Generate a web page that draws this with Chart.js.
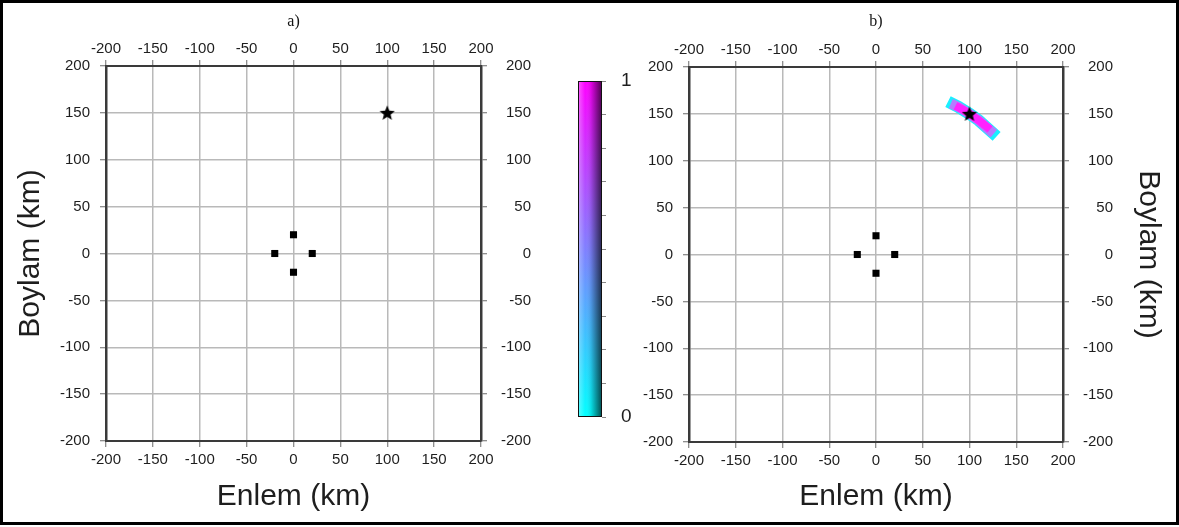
<!DOCTYPE html>
<html>
<head>
<meta charset="utf-8">
<script src="https://cdn.jsdelivr.net/npm/chart.js@4"></script>
<style>
  html, body { margin: 0; padding: 0; background: #fff; }
  body { width: 1179px; height: 527px; position: relative; overflow: hidden; }
  #frame { position: absolute; left: 0; top: 0; width: 1173px; height: 519px; border: 3px solid #000; }
  canvas { position: absolute; top: 0; }
</style>
</head>
<body>
<div id="frame"></div>
<canvas id="panelA" width="531" height="527" style="left:0px"></canvas>
<canvas id="colorbar" width="80" height="527" style="left:560px"></canvas>
<canvas id="panelB" width="549" height="527" style="left:630px"></canvas>
<script>
// axis range (km)
const axisMin = -200;
const axisMax = 200;
const axisStep = 50;

// recording stations and the source
const stationX = [0, -20, 20, 0];
const stationY = [20, 0, 0, -20];
const sourceX = [100];
const sourceY = [150];

// located area in panel b (outer band, middle, core)
const swathX = [77, 88, 100, 110, 120, 129];
const swathY = [163, 157.5, 150, 143, 134, 126];
const swathMidX = [80, 88, 100, 110, 120, 126];
const swathMidY = [161, 157.5, 150, 143, 134, 129];
const swathCoreX = [85, 93, 100, 110, 122];
const swathCoreY = [158.5, 154.5, 150, 143, 133.5];

// colour scale
const colorbarRange = [0, 1];
const colorbarLabels = [0, 1];

const sans = "'Liberation Sans', Arial, sans-serif";
const serif = "'Liberation Serif', 'Times New Roman', serif";
const textColor = '#1e1e1e';
const gridColor = '#b9b9b9';
const tickColor = '#6a6a6a';
const frameColor = '#3a3a3a';

// filled five point star used as the source marker
function makeStar(size) {
  const c = document.createElement('canvas');
  c.width = c.height = size;
  const g = c.getContext('2d');
  g.beginPath();
  for (let i = 0; i < 10; i++) {
    const r = i % 2 ? size * 0.22 : size / 2;
    const a = -Math.PI / 2 + i * Math.PI / 5;
    g.lineTo(size / 2 + r * Math.cos(a), size / 2 + r * Math.sin(a) + 0.6);
  }
  g.closePath();
  g.fillStyle = '#000';
  g.fill();
  return c;
}
const starImg = makeStar(16);

function toPoints(xs, ys) {
  return xs.map((x, i) => ({ x: x, y: ys[i] }));
}

function baseDatasets() {
  return [
    { data: toPoints(sourceX, sourceY), pointStyle: starImg, pointRadius: 7 },
    { data: toPoints(stationX, stationY), pointStyle: 'rect', pointRadius: 5,
      backgroundColor: '#000', borderColor: '#000', borderWidth: 0 }
  ];
}

function axis(position, extra) {
  const horizontal = position === 'top' || position === 'bottom';
  return Object.assign({
    type: 'linear',
    position: position,
    min: axisMin,
    max: axisMax,
    ticks: {
      stepSize: axisStep,
      color: textColor,
      font: { family: sans, size: 15 },
      padding: horizontal ? (position === 'top' ? 2 : 4) : 10,
      maxRotation: 0,
      autoSkip: false
    },
    grid: {
      drawOnChartArea: position === 'bottom' || position === 'left',
      color: gridColor,
      lineWidth: 1.5,
      tickColor: tickColor,
      tickWidth: 1,
      tickLength: 6
    },
    border: { display: true, color: frameColor, width: horizontal ? 2 : 2.5 }
  }, extra);
}

function axisTitle(text, pad) {
  return { display: true, text: text, color: textColor, font: { family: sans, size: 30 }, padding: pad };
}

function makePanel(id, cfg) {
  const scales = {
    x: axis('bottom', {
      title: axisTitle('Enlem (km)', { top: 0, bottom: 12 }),
      afterFit: s => { s.height = 527 - cfg.bottom; }
    }),
    x2: axis('top', { afterFit: s => { s.height = cfg.top - 31.2; } }),
    y: axis('left', {
      title: cfg.leftTitle ? axisTitle('Boylam (km)', { top: 13, bottom: 0 }) : { display: false },
      afterFit: s => { s.width = cfg.left; }
    }),
    y2: axis('right', { afterFit: s => { s.width = 50; } })
  };
  scales.y2.ticks.crossAlign = 'far';
  scales.y2.ticks.padding = 12;
  if (cfg.rightTitle) {
    scales.y3 = {
      type: 'linear', position: 'right', min: axisMin, max: axisMax,
      ticks: { display: false },
      grid: { display: false },
      border: { display: false },
      title: axisTitle('Boylam (km)', { top: 13, bottom: 0 }),
      afterFit: s => { s.width = cfg.rightTitle; }
    };
  }
  return new Chart(document.getElementById(id), {
    type: 'scatter',
    data: { datasets: cfg.datasets },
    options: {
      responsive: false,
      animation: false,
      layout: { padding: 0, autoPadding: false },
      plugins: {
        legend: { display: false },
        tooltip: { enabled: false },
        title: {
          display: true, text: cfg.title, fullSize: false, align: 'center',
          padding: { top: 12, bottom: 0 }, color: '#111',
          font: { family: serif, size: 16, weight: 'normal' }
        }
      },
      scales: scales
    }
  });
}

// panel a: stations and source only
makePanel('panelA', {
  title: 'a)', top: 66, bottom: 441, left: 106, leftTitle: true,
  datasets: baseDatasets()
});

// panel b: same, plus the located area
const swathSets = [
  { data: toPoints(swathCoreX, swathCoreY), showLine: true, pointRadius: 0, borderColor: '#ff22ff', borderWidth: 8 },
  { data: toPoints(swathMidX, swathMidY), showLine: true, pointRadius: 0, borderColor: '#b47cff', borderWidth: 10 },
  { data: toPoints(swathX, swathY), showLine: true, pointRadius: 0, borderColor: '#19f0ff', borderWidth: 12 }
];
makePanel('panelB', {
  title: 'b)', top: 67, bottom: 442, left: 59, rightTitle: 66,
  datasets: baseDatasets().concat(swathSets)
});

// colour scale bar between the panels, lit from the left
const shadePlugin = {
  id: 'shade',
  afterDraw(chart) {
    const { ctx, chartArea: a } = chart;
    const g = ctx.createLinearGradient(a.left, 0, a.right, 0);
    g.addColorStop(0, 'rgba(255,255,255,0.35)');
    g.addColorStop(0.3, 'rgba(255,255,255,0)');
    g.addColorStop(0.55, 'rgba(0,0,0,0.12)');
    g.addColorStop(1, 'rgba(0,0,0,0.7)');
    ctx.save();
    ctx.fillStyle = g;
    ctx.fillRect(a.left, a.top, a.right - a.left, a.bottom - a.top);
    ctx.strokeStyle = '#111';
    ctx.lineWidth = 1;
    ctx.strokeRect(a.left + 0.5, a.top + 0.5, a.right - a.left - 1, a.bottom - a.top - 1);
    ctx.restore();
  }
};

new Chart(document.getElementById('colorbar'), {
  type: 'bar',
  data: {
    labels: [''],
    datasets: [{
      data: [colorbarRange[1]],
      base: colorbarRange[0],
      barPercentage: 1,
      categoryPercentage: 1,
      borderWidth: 0,
      backgroundColor: (context) => {
        const { ctx, chartArea } = context.chart;
        if (!chartArea) return null;
        const g = ctx.createLinearGradient(0, chartArea.bottom, 0, chartArea.top);
        g.addColorStop(0, '#00ffff');
        g.addColorStop(1, '#ff00ff');
        return g;
      }
    }]
  },
  options: {
    responsive: false,
    animation: false,
    layout: { padding: { left: 18, top: 81, bottom: 110, right: 0 }, autoPadding: false },
    plugins: { legend: { display: false }, tooltip: { enabled: false } },
    scales: {
      x: { display: false },
      y: {
        position: 'right',
        min: colorbarRange[0],
        max: colorbarRange[1],
        afterFit: s => { s.width = 80 - 18 - 24; },
        ticks: {
          stepSize: 0.1,
          padding: 15,
          color: textColor,
          font: { family: sans, size: 19 },
          autoSkip: false,
          callback: v => colorbarLabels.includes(Math.round(v * 10) / 10) ? String(Math.round(v)) : ''
        },
        grid: { drawOnChartArea: false, tickLength: 4, tickColor: '#888', tickWidth: 1 },
        border: { display: false }
      }
    }
  },
  plugins: [shadePlugin]
});
</script>
</body>
</html>
